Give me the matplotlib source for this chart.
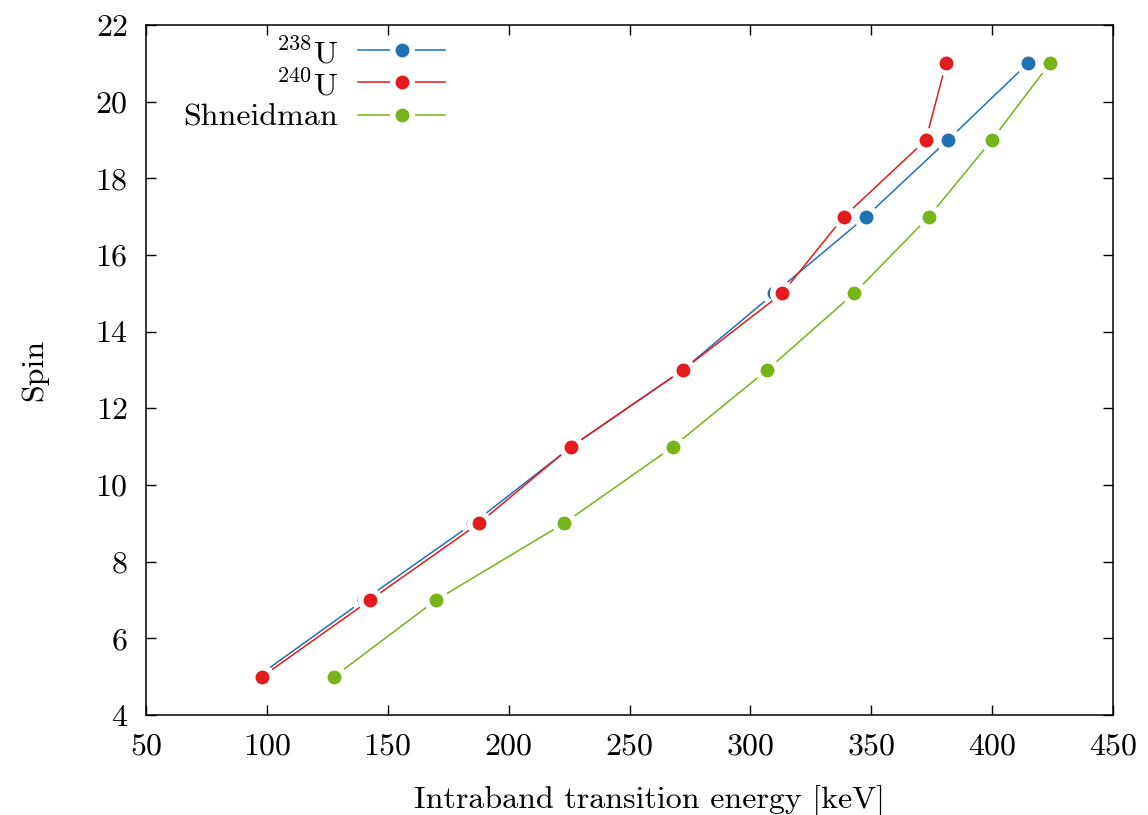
import matplotlib
matplotlib.use("Agg")
import matplotlib.pyplot as plt

plt.rcParams['font.family'] = 'serif'
plt.rcParams['font.serif'] = ['cmr10']
plt.rcParams['mathtext.fontset'] = 'cm'
plt.rcParams['axes.formatter.use_mathtext'] = True

spin = [5, 7, 9, 11, 13, 15, 17, 19, 21]
e_238 = [96.0, 140.2, 185.3, 226.0, 272.0, 309.8, 347.8, 381.7, 414.8]
e_240 = [98.0, 142.7, 187.7, 225.8, 272.1, 313.1, 338.7, 372.6, 380.9]
e_shn = [127.8, 170.0, 222.9, 268.0, 306.9, 342.9, 373.9, 399.9, 423.9]

labels = [r'$^{238}$U', r'$^{240}$U', 'Shneidman']
colors = ['#2171b5', '#e41a1c', '#77b41a']
series = [e_238, e_240, e_shn]

fs = 23
fig = plt.figure(figsize=(11.48, 8.15), dpi=100)
ax = fig.add_axes([0.1272, 0.1227, 0.9695 - 0.1272, 0.9693 - 0.1227])

ms_face = 10.0
ms_halo = 18.0
for i, (x, c) in enumerate(zip(series, colors)):
    z = 2 + 3 * i
    ax.plot(x, spin, '-', color=c, lw=1.1, zorder=z)
    ax.plot(x, spin, 'o', color='white', ms=ms_halo, mec='none', zorder=z + 1)
    ax.plot(x, spin, 'o', color=c, ms=ms_face, mec='none', zorder=z + 2)

# legend (gnuplot-like: right-aligned text, sample line with gap around marker)
tx = 0.1986
lx0, lx1, lxm = 0.219, 0.309, 0.265
rows = [0.9638, 0.9174, 0.8696]
for lab, c, y in zip(labels, colors, rows):
    ax.text(tx, y, lab, transform=ax.transAxes, ha='right', va='center_baseline',
            fontsize=fs, zorder=20)
    ax.plot([lx0, lx1], [y, y], '-', color=c, lw=1.1, transform=ax.transAxes,
            zorder=20, clip_on=False)
    ax.plot([lxm], [y], 'o', color='white', ms=ms_halo, mec='none',
            transform=ax.transAxes, zorder=21, clip_on=False)
    ax.plot([lxm], [y], 'o', color=c, ms=ms_face, mec='none',
            transform=ax.transAxes, zorder=22, clip_on=False)

ax.set_xlim(50, 450)
ax.set_ylim(4, 22)
ax.set_xticks(range(50, 451, 50))
ax.set_yticks(range(4, 23, 2))
ax.tick_params(direction='in', top=True, right=True, length=7, width=1,
               labelsize=fs, pad=13)
for s in ax.spines.values():
    s.set_linewidth(1.1)

ax.set_xlabel('Intraband transition energy [keV]', fontsize=fs)
ax.set_ylabel('Spin', fontsize=fs)
ax.xaxis.set_label_coords(0.521, -0.101)
ax.yaxis.set_label_coords(-0.101, 0.5)

fig.savefig('out.png', dpi=100)
